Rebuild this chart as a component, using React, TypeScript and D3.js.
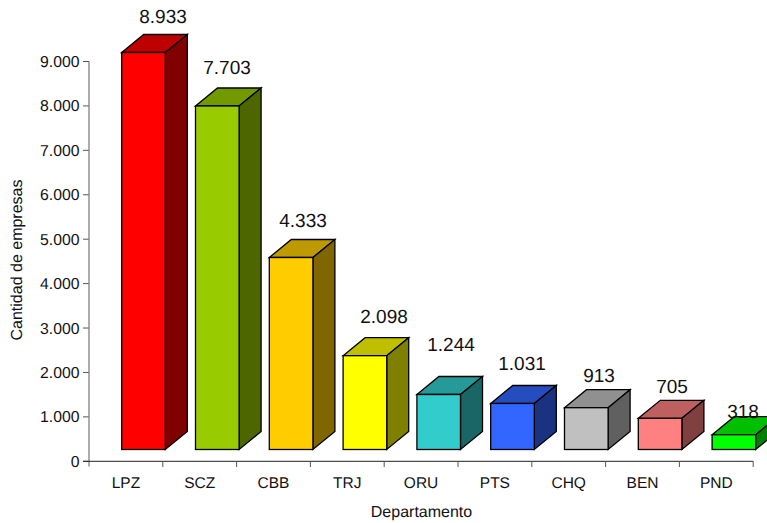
import React from "react";
import * as d3 from "d3";

const categories = ["LPZ", "SCZ", "CBB", "TRJ", "ORU", "PTS", "CHQ", "BEN", "PND"];
const labelValues = [8933, 7703, 4333, 2098, 1244, 1031, 913, 705, 318];
// Heights as drawn in the picture (the drawn boxes differ slightly from the printed labels)
const drawnValues = [8937, 7733, 4322, 2112, 1238, 1036, 941, 702, 333];
const frontColors = ["#ff0000", "#99cc00", "#ffcc00", "#ffff00", "#33cccc", "#3366ff", "#c0c0c0", "#ff8080", "#00ff00"];
const topColors = ["#bf0000", "#739900", "#bf9900", "#bfbf00", "#269999", "#264dbf", "#909090", "#bf6060", "#00bf00"];
const sideColors = ["#800000", "#4d6600", "#806600", "#808000", "#1a6666", "#1a3380", "#606060", "#804040", "#008000"];
const yTicks = [0, 1000, 2000, 3000, 4000, 5000, 6000, 7000, 8000, 9000];
const labelDx = [19.5, 9.7, 11.9, 19.1, 12.3, 9.5, 12.7, 11.9, 9.1];
const labelDy = [11.5, 14, 12.5, 14.7, 25.5, 15.5, 7.7, 7.3, -1.3];

const W = 767, H = 523;
const fmt = (v: number) => String(v).replace(/\B(?=(\d{3})+$)/g, ".");

export default function App() {
  const y = d3.scaleLinear().domain([0, 9000]).range([461.3, 61.5]);
  const x = d3.scaleBand<string>().domain(categories).range([89, 753.2]).paddingInner(0).paddingOuter(0);
  const unit = y(0) - y(1000);
  const baseY = 449.5;
  const dx = 22, dy = 18;
  const barW = 43.6;
  const barX = (c: string) => x(c)! + 32.7;
  const font = "'Liberation Sans', Arial, sans-serif";
  const stroke = "#000";
  return (
    <svg width={W} height={H} style={{ position: "absolute", left: 0, top: 0, background: "#fff" }} fontFamily={font} textRendering="geometricPrecision">
      {yTicks.map((t) => (
        <g key={t}>
          <line x1={83} x2={89} y1={y(t)} y2={y(t)} stroke="#555" strokeWidth={1} />
          <text x={79.5} y={y(t) + 5.5} textAnchor="end" fontSize={15.8} fill="#111">{fmt(t)}</text>
        </g>
      ))}
      <line x1={89} x2={89} y1={y(9000)} y2={466.5} stroke="#808080" strokeWidth={1.3} />
      <line x1={83} x2={753.2} y1={y(0)} y2={y(0)} stroke="#222" strokeWidth={1} />
      {categories.map((c) => (
        <g key={c}>
          <line x1={x(c)! + x.bandwidth()} x2={x(c)! + x.bandwidth()} y1={y(0)} y2={467} stroke="#555" strokeWidth={1} />
          <text x={x(c)! + x.bandwidth() / 2} y={488} textAnchor="middle" fontSize={15.5} fill="#111">{c}</text>
        </g>
      ))}
      {categories.map((c, i) => {
        const x0 = barX(c);
        const x1 = x0 + barW;
        const top = baseY - (drawnValues[i] / 1000) * unit;
        const path = (pts: number[][]) => d3.line()(pts as [number, number][]) + "Z";
        return (
          <g key={c} stroke={stroke} strokeWidth={1.3} strokeLinejoin="miter">
            <path d={path([[x0, top], [x0 + dx, top - dy], [x1 + dx, top - dy], [x1, top]])} fill={topColors[i]} />
            <path d={path([[x1, top], [x1 + dx, top - dy], [x1 + dx, baseY - dy], [x1, baseY]])} fill={sideColors[i]} />
            <rect x={x0} y={top} width={barW} height={baseY - top} fill={frontColors[i]} />
          </g>
        );
      })}
      {categories.map((c, i) => {
        const top = baseY - (drawnValues[i] / 1000) * unit - dy;
        return (
          <text key={c} x={barX(c) + barW / 2 + labelDx[i]} y={top - labelDy[i]} textAnchor="middle" fontSize={19} fill="#111">
            {fmt(labelValues[i])}
          </text>
        );
      })}
      <text transform="translate(21.5,260) rotate(-90)" textAnchor="middle" fontSize={16} fill="#111">Cantidad de empresas</text>
      <text x={421.5} y={517} textAnchor="middle" fontSize={16} fill="#111">Departamento</text>
    </svg>
  );
}
